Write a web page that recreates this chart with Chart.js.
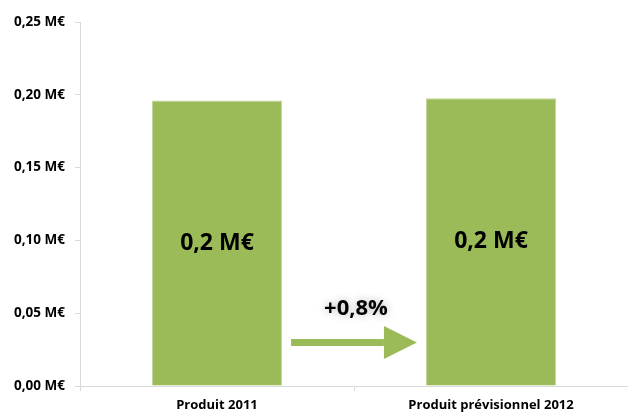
<!DOCTYPE html>
<html>
<head>
<meta charset="utf-8">
<script src="https://cdn.jsdelivr.net/npm/chart.js@4/dist/chart.umd.min.js"></script>
<style>
  html, body { margin: 0; padding: 0; background: #fff; }
  #wrap { width: 628px; height: 412px; }
</style>
</head>
<body>
<div id="wrap"><canvas id="ProduitGraph"></canvas></div>
<script>
var categories = ["Produit 2011", "Produit prévisionnel 2012"];
var produits = [0.1960, 0.1976]; // M€
var yTicks = [0, 0.05, 0.10, 0.15, 0.20, 0.25];

var green = "#9BBB59";
var font = "'Open Sans', Lato, sans-serif";

function formatMe(value, decimals) {
    return value.toFixed(decimals).replace(".", ",") + " M€";
}

// value labels inside the bars, plus the growth arrow between them
var annotations = {
    id: "annotations",
    afterDatasetsDraw: function (chart, args, opts) {
        var ctx = chart.ctx;
        var bars = chart.getDatasetMeta(0).data;
        var y = chart.scales.y;

        ctx.save();
        ctx.fillStyle = "#000";
        ctx.textAlign = "center";
        ctx.textBaseline = "middle";
        ctx.font = "bold 23px " + font;
        bars.forEach(function (bar, i) {
            ctx.fillText(formatMe(produits[i], 1), bar.x, (bar.y + bar.base) / 2);
        });

        // arrow from first bar to second bar
        var x0 = bars[0].x + bars[0].width / 2 + 9;
        var x1 = bars[1].x - bars[1].width / 2 - 9;
        var ay = y.getPixelForValue(opts.arrowLevel);
        ctx.fillStyle = green;
        ctx.fillRect(x0, ay - 3, (x1 - x0) - 33, 7);
        ctx.beginPath();
        ctx.moveTo(x1 - 33, ay - 16);
        ctx.lineTo(x1, ay + 0.5);
        ctx.lineTo(x1 - 33, ay + 17);
        ctx.closePath();
        ctx.fill();

        var growth = (produits[1] / produits[0] - 1) * 100;
        var txt = "+" + growth.toFixed(1).replace(".", ",") + "%";
        ctx.font = "bold 22px " + font;
        ctx.shadowColor = "rgba(0,0,0,0.3)";
        ctx.shadowBlur = 8;
        ctx.fillStyle = "#000";
        ctx.fillText(txt, (x0 + x1) / 2 + 2, y.getPixelForValue(opts.labelLevel));
        ctx.restore();
    }
};

var context = document.getElementById("ProduitGraph").getContext("2d");
var chart = new Chart(context, {
    type: "bar",
    data: {
        labels: categories,
        datasets: [{
            data: produits,
            backgroundColor: green,
            borderColor: "#c3d69b",
            borderWidth: 1,
            barPercentage: 0.475,
            categoryPercentage: 1
        }]
    },
    options: {
        responsive: true,
        maintainAspectRatio: false,
        animation: false,
        layout: { padding: { top: 22, right: 0, left: 0, bottom: 0 } },
        plugins: {
            legend: { display: false },
            tooltip: { enabled: false },
            annotations: { arrowLevel: 0.0302, labelLevel: 0.053 }
        },
        scales: {
            x: {
                grid: {
                    offset: true,
                    drawOnChartArea: false,
                    color: "#d9d9d9",
                    tickLength: 5
                },
                border: { color: "#d9d9d9" },
                ticks: {
                    color: "#000",
                    font: { family: font, size: 13, weight: "bold" },
                    padding: 6
                },
                afterFit: function (scale) { scale.height = 26; }
            },
            y: {
                min: 0,
                max: 0.25,
                afterBuildTicks: function (scale) {
                    scale.ticks = yTicks.map(function (v) { return { value: v }; });
                },
                grid: {
                    drawOnChartArea: false,
                    color: "#d9d9d9",
                    tickLength: 5
                },
                border: { color: "#d9d9d9" },
                ticks: {
                    color: "#000",
                    font: { family: font, size: 13.5, weight: "bold" },
                    padding: 10,
                    callback: function (value) { return formatMe(value, 2); }
                },
                afterFit: function (scale) { scale.width = 80; }
            }
        }
    },
    plugins: [annotations]
});
</script>
</body>
</html>
